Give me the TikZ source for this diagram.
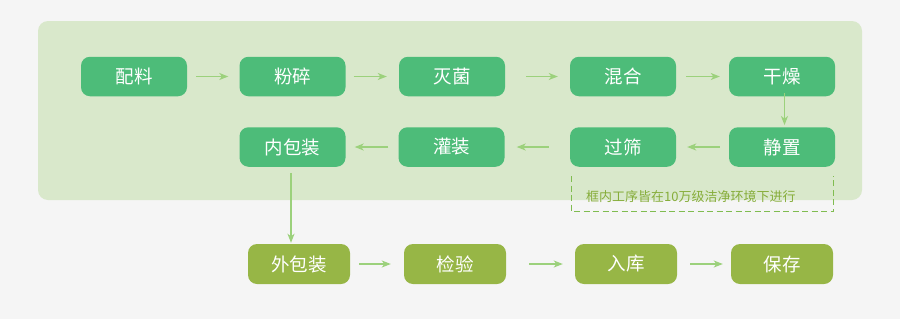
\documentclass[tikz,border=0pt]{standalone}
\usepackage{fontspec}
\newfontfamily\cjk{Noto Sans CJK SC}
\usetikzlibrary{arrows.meta}
\definecolor{fond}{HTML}{F5F5F5}
\definecolor{zone}{HTML}{D9E8CB}
\definecolor{vert}{HTML}{4DBC79}
\definecolor{olive}{HTML}{97B646}
\definecolor{trait}{HTML}{9CD17C}
\definecolor{cadre}{HTML}{80BC50}
\definecolor{note}{HTML}{86AD3A}
\begin{document}
\begin{tikzpicture}[x=1pt, y=-1pt,
    etape/.style={fill=vert, rounded corners=9pt, minimum width=106pt, minimum height=39.5pt,
                  text=white, font=\cjk\fontsize{18.5}{20}\selectfont, inner sep=0pt},
    sortie/.style={etape, fill=olive, minimum width=102pt, minimum height=40pt},
    fleche/.style={draw=trait, line width=1.5pt, -{Stealth[length=9pt, width=7pt, inset=2.5pt]}}]
    \useasboundingbox (0,0) rectangle (900,319);
    \fill[fond] (0,0) rectangle (900,319);
    % zone propre
    \fill[zone, rounded corners=10pt] (38,21) rectangle (862,200);

    \foreach \nom/\x/\txt in {peiliao/134/配料, fensui/292.5/粉碎, miejun/452/灭菌, hunhe/623/混合, ganzao/782/干燥}
        { \node[etape] (\nom) at (\x,76.5) {\txt}; }
    \foreach \nom/\x/\txt in {neibao/292.5/内包装, guanzhuang/451.5/灌装, guoshai/623/过筛, jingzhi/782/静置}
        { \node[etape] (\nom) at (\x,147) {\txt}; }
    \foreach \nom/\x/\txt in {waibao/299/外包装, jianyan/455/检验, ruku/626/入库, baocun/782/保存}
        { \node[sortie] (\nom) at (\x,264) {\txt}; }

    % fleches
    \foreach \a/\b/\s/\e in {peiliao/fensui/9/11, fensui/miejun/8/12, miejun/hunhe/21/12, hunhe/ganzao/10/9,
                             waibao/jianyan/9/13, jianyan/ruku/23/12, ruku/baocun/13/8}
        { \draw[fleche, shorten <=\s pt, shorten >=\e pt] (\a.east) -- (\b.west); }
    \foreach \a/\b/\s/\e in {jingzhi/guoshai/9/11, guoshai/guanzhuang/21/12, guanzhuang/neibao/10/9}
        { \draw[fleche, shorten <=\s pt, shorten >=\e pt] (\a.west) -- (\b.east); }
    \draw[fleche, shorten <=-3pt, shorten >=2pt] ([xshift=2.5pt]ganzao.south) -- ([xshift=2.5pt]jingzhi.north);
    \draw[fleche, shorten <=6pt, shorten >=1pt] ([xshift=-1.5pt]neibao.south) -- ([xshift=-1.5pt]neibao.south |- waibao.north);

    % cadre en pointilles
    \draw[draw=cadre, line width=1.6pt, dash pattern=on 6pt off 3.5pt] (571.5,176) |- (833.5,211.5) -- (833.5,176);
    \node[anchor=west, text=note, font=\cjk\fontsize{13}{14}\selectfont, inner sep=0pt] (remarque) at (586,196.5) {框内工序皆在10万级洁净环境下进行};
\end{tikzpicture}
\end{document}
